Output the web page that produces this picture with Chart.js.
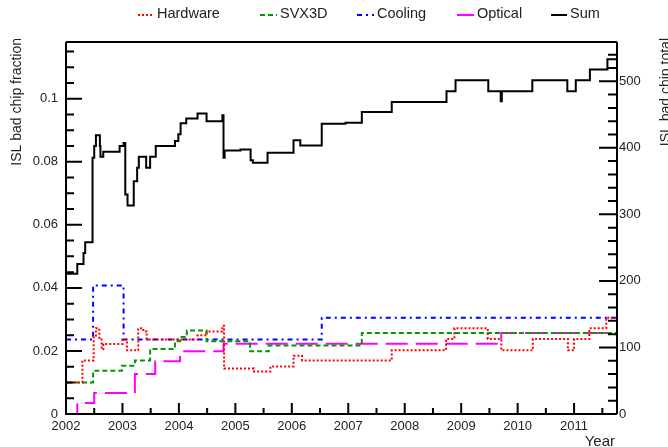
<!DOCTYPE html>
<html>
<head>
<meta charset="utf-8">
<script src="https://cdn.jsdelivr.net/npm/chart.js@4"></script>
<style>
  html, body { margin: 0; padding: 0; background: #fff; }
  canvas { display: block; }
</style>
</head>
<body>
<canvas id="islChart" width="668" height="447"></canvas>
<script>
// step start (year) and value for each curve
const hardwareX = [2002.00, 2002.29, 2002.49, 2002.53, 2002.59, 2002.63, 2002.66, 2003.00, 2003.08, 2003.28, 2003.37, 2003.43, 2004.33, 2004.49, 2004.77, 2004.80, 2005.33, 2005.62, 2006.03, 2006.18, 2007.77, 2008.73, 2008.88, 2009.47, 2009.71, 2010.27, 2010.89, 2011.00, 2011.27, 2011.57];
const hardwareY = [0.0100, 0.0170, 0.0245, 0.0272, 0.0236, 0.0205, 0.0222, 0.0236, 0.0202, 0.0272, 0.0262, 0.0236, 0.0250, 0.0262, 0.0280, 0.0144, 0.0135, 0.0151, 0.0185, 0.0170, 0.0202, 0.0238, 0.0272, 0.0238, 0.0202, 0.0238, 0.0202, 0.0238, 0.0272, 0.0305];

const svxX = [2002.00, 2002.48, 2002.99, 2003.22, 2003.49, 2003.93, 2004.02, 2004.14, 2004.49, 2005.26, 2005.59, 2007.24];
const svxY = [0.0100, 0.0137, 0.0153, 0.0170, 0.0206, 0.0231, 0.0244, 0.0265, 0.0231, 0.0199, 0.0217, 0.0257];

const coolingX = [2002.00, 2002.48, 2003.02, 2006.53];
const coolingY = [0.0236, 0.0408, 0.0236, 0.0305];

const opticalX = [2002.00, 2002.20, 2002.50, 2003.22, 2003.58, 2004.02, 2004.79, 2009.71];
const opticalY = [0.0000, 0.0035, 0.0067, 0.0127, 0.0167, 0.0199, 0.0223, 0.0257];

const sumX = [2002.00, 2002.20, 2002.31, 2002.34, 2002.47, 2002.50, 2002.53, 2002.60, 2002.61, 2002.66, 2002.95, 2003.02, 2003.05, 2003.09, 2003.20, 2003.26, 2003.29, 2003.42, 2003.49, 2003.59, 2003.93, 2003.99, 2004.03, 2004.13, 2004.33, 2004.49, 2004.77, 2004.79, 2004.81, 2005.09, 2005.27, 2005.31, 2005.57, 2006.03, 2006.15, 2006.53, 2006.95, 2007.24, 2007.77, 2008.74, 2008.90, 2009.48, 2009.70, 2009.72, 2010.26, 2010.88, 2011.03, 2011.28, 2011.59];
const sumY = [0.0445, 0.0476, 0.0511, 0.0545, 0.0813, 0.0850, 0.0884, 0.0850, 0.0816, 0.0832, 0.0850, 0.0860, 0.0696, 0.0661, 0.0738, 0.0781, 0.0816, 0.0781, 0.0816, 0.0850, 0.0866, 0.0887, 0.0922, 0.0937, 0.0953, 0.0929, 0.0948, 0.0813, 0.0836, 0.0839, 0.0805, 0.0797, 0.0829, 0.0868, 0.0852, 0.0921, 0.0924, 0.0958, 0.0990, 0.1024, 0.1059, 0.1024, 0.0992, 0.1024, 0.1059, 0.1024, 0.1059, 0.1093, 0.1125];

const xMin = 2002, xMax = 2011.76;
const fracMax = 0.118, totalMax = 559;

function steps(xs, ys) {
    var pts = xs.map(function(x, i) { return {x: x, y: ys[i]}; });
    pts.push({x: xMax, y: ys[ys.length - 1]}); // hold last value to the edge
    return pts;
}

const series = [
    {label: 'Hardware', xs: hardwareX, ys: hardwareY, color: '#ff0000', dash: [2, 2]},
    {label: 'SVX3D', xs: svxX, ys: svxY, color: '#009900', dash: [5, 3]},
    {label: 'Cooling', xs: coolingX, ys: coolingY, color: '#0000ff', dash: [5, 4, 2, 4]},
    {label: 'Optical', xs: opticalX, ys: opticalY, color: '#ff00ff', dash: [22, 8]},
    {label: 'Sum', xs: sumX, ys: sumY, color: '#000000', dash: []}
];

const FONT = '"Liberation Sans", Arial, sans-serif';

// ROOT-like frame: inward ticks, legend across the top, titles at axis ends
const rootFrame = {
    id: 'rootFrame',
    afterDraw: function(chart) {
        var ctx = chart.ctx, a = chart.chartArea, s = chart.scales;
        ctx.save();
        ctx.strokeStyle = '#000';
        ctx.lineWidth = 2;
        ctx.setLineDash([]);
        ctx.beginPath();
        ctx.moveTo(a.left, a.top); ctx.lineTo(a.right, a.top);
        ctx.moveTo(a.left, a.top); ctx.lineTo(a.left, a.bottom); ctx.lineTo(a.right, a.bottom);
        ctx.moveTo(a.right, a.top); ctx.lineTo(a.right, a.bottom);
        // x ticks every half year
        for (var v = xMin; v <= xMax; v += 0.5) {
            var px = s.x.getPixelForValue(v);
            var len = (v % 1 === 0) ? 11 : 6;
            ctx.moveTo(px, a.bottom); ctx.lineTo(px, a.bottom - len);
        }
        // left ticks every 0.005
        for (var i = 0; i * 0.005 <= fracMax; i++) {
            var py = s.y.getPixelForValue(i * 0.005);
            var l = (i % 4 === 0) ? 16 : 8;
            ctx.moveTo(a.left, py); ctx.lineTo(a.left + l, py);
        }
        // right ticks every 20
        for (var t = 0; t <= totalMax; t += 20) {
            var ry = s.y2.getPixelForValue(t);
            var rl = (t % 100 === 0) ? 18 : 9;
            ctx.moveTo(a.right, ry); ctx.lineTo(a.right - rl, ry);
        }
        ctx.stroke();

        // legend
        var legendPos = [[138, 157], [260, 280], [357, 377], [457, 477], [551, 570]];
        ctx.font = '14.5px ' + FONT;
        ctx.textBaseline = 'middle';
        ctx.textAlign = 'left';
        series.forEach(function(d, k) {
            var p = legendPos[k];
            ctx.strokeStyle = d.color;
            ctx.lineWidth = 2;
            ctx.setLineDash(d.label === 'Optical' ? [] : d.dash);
            ctx.beginPath();
            ctx.moveTo(p[0], 15); ctx.lineTo(p[1] - 3, 15);
            ctx.stroke();
            ctx.fillStyle = '#222';
            ctx.fillText(d.label, p[1], 14);
        });
        ctx.setLineDash([]);

        // axis titles
        ctx.fillStyle = '#222';
        ctx.font = '14px ' + FONT;
        ctx.save();
        ctx.translate(17, 38);
        ctx.rotate(-Math.PI / 2);
        ctx.textAlign = 'right';
        ctx.textBaseline = 'middle';
        ctx.fillText('ISL bad chip fraction', 0, 0);
        ctx.restore();
        ctx.save();
        ctx.translate(666, 38);
        ctx.rotate(-Math.PI / 2);
        ctx.textAlign = 'right';
        ctx.textBaseline = 'middle';
        ctx.fillText('ISL bad chip total', 0, 0);
        ctx.restore();
        ctx.font = '15px ' + FONT;
        ctx.textAlign = 'right';
        ctx.textBaseline = 'alphabetic';
        ctx.fillText('Year', 615, 446);
        ctx.restore();
    }
};

var ctx = document.getElementById('islChart').getContext('2d');
var islChart = new Chart(ctx, {
    type: 'line',
    data: {
        datasets: series.map(function(d) {
            return {
                label: d.label,
                data: steps(d.xs, d.ys),
                yAxisID: 'y',
                stepped: true,
                borderColor: d.color,
                borderDash: d.dash,
                borderWidth: 2,
                pointRadius: 0,
                fill: false
            };
        })
    },
    options: {
        responsive: false,
        animation: false,
        events: [],
        layout: { padding: { top: 42, left: 0, right: 0, bottom: 0 } },
        plugins: { legend: { display: false }, tooltip: { enabled: false } },
        scales: {
            x: {
                type: 'linear',
                min: xMin,
                max: xMax,
                afterFit: function(scale) { scale.height = 33; },
                grid: { display: false, drawTicks: false },
                border: { display: false },
                ticks: {
                    stepSize: 1,
                    includeBounds: false,
                    maxRotation: 0,
                    autoSkip: false,
                    padding: 5,
                    color: '#222',
                    font: { family: FONT, size: 13 },
                    callback: function(v) { return String(v); }
                }
            },
            y: {
                position: 'left',
                min: 0,
                max: fracMax,
                afterFit: function(scale) { scale.width = 66; },
                grid: { display: false, drawTicks: false },
                border: { display: false },
                ticks: {
                    stepSize: 0.02,
                    includeBounds: false,
                    padding: 8,
                    color: '#222',
                    font: { family: FONT, size: 13 },
                    callback: function(v) { return String(parseFloat(v.toFixed(3))); }
                }
            },
            y2: {
                position: 'right',
                min: 0,
                max: totalMax,
                afterFit: function(scale) { scale.width = 51; },
                grid: { display: false, drawTicks: false },
                border: { display: false },
                ticks: {
                    stepSize: 100,
                    includeBounds: false,
                    padding: 2,
                    color: '#222',
                    font: { family: FONT, size: 13 },
                    callback: function(v) { return String(v); }
                }
            }
        }
    },
    plugins: [rootFrame]
});
</script>
</body>
</html>
